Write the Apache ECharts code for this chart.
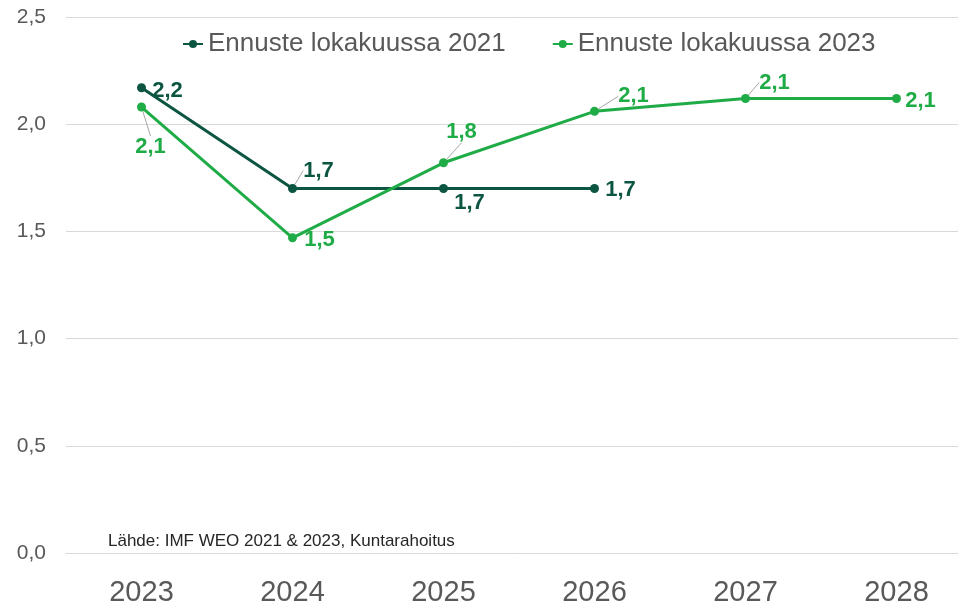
<!DOCTYPE html>
<html>
<head>
<meta charset="utf-8">
<script src="https://cdn.jsdelivr.net/npm/echarts@6/dist/echarts.min.js"></script>
<style>
  html, body { margin: 0; padding: 0; background: #fff; }
  #chart { width: 958px; height: 604px; }
</style>
</head>
<body>
<div id="chart"></div>
<script>
// Data
const years = ["2023", "2024", "2025", "2026", "2027", "2028"];
const seriesNames = ["Ennuste lokakuussa 2021", "Ennuste lokakuussa 2023"];
const forecast2021 = [2.17, 1.70, 1.70, 1.70, null, null];
const forecast2023 = [2.08, 1.47, 1.82, 2.06, 2.12, 2.12];
const sourceText = "Lähde: IMF WEO 2021 & 2023, Kuntarahoitus";

// label placement (offset from point centre) and guide lines
const offs2021 = [[26, 3], [26, -18], [26, 14], [26, 1]];
const guide2021 = [false, true, false, false];
const offs2023 = [[9, 40], [27, 2], [18, -31], [39, -15], [29, -16], [24, 2]];
const guide2023 = [true, false, true, true, true, false];

const darkGreen = "#0c5541";
const lightGreen = "#1fac47";
const font = "'Liberation Sans', Arial, sans-serif";

const fmt = v => v.toFixed(1).replace(".", ",");

const makeData = (vals, guides) =>
	vals.map((v, i) => ({
		value: v,
		labelLine: { show: !!guides[i] }
	}));

const makeLayout = offs => params => {
	const o = offs[params.dataIndex] || [0, 0];
	return {
		x: params.rect.x + params.rect.width / 2 + o[0],
		y: params.rect.y + params.rect.height / 2 + o[1],
		align: "center",
		verticalAlign: "middle"
	};
};

const myChart = echarts.init(document.getElementById("chart"));

const lineSeries = (name, vals, color, offs, guides) => ({
	name: name,
	type: "line",
	data: makeData(vals, guides),
	symbol: "circle",
	symbolSize: 9,
	connectNulls: false,
	lineStyle: { color: color, width: 3 },
	itemStyle: { color: color },
	label: {
		show: true,
		formatter: p => fmt(p.value),
		color: color,
		fontFamily: font,
		fontWeight: "bold",
		fontSize: 22
	},
	labelLine: {
		lineStyle: { color: "#a6a6a6", width: 1 }
	},
	labelLayout: makeLayout(offs),
	emphasis: { disabled: true }
});

const option = {
	animation: false,
	backgroundColor: "#fff",
	textStyle: { fontFamily: font },
	grid: {
		left: 66,
		width: 906,
		top: 17,
		bottom: 51,
		containLabel: false,
		outerBoundsMode: "none"
	},
	legend: {
		left: 177,
		top: 26,
		itemGap: 46,
		itemWidth: 20,
		itemHeight: 10,
		textStyle: { fontSize: 26, color: "#595959", fontFamily: font },
		data: seriesNames
	},
	xAxis: {
		type: "category",
		data: years,
		axisTick: { show: false },
		axisLine: { lineStyle: { color: "#d9d9d9", width: 1 } },
		axisLabel: {
			fontSize: 29,
			color: "#595959",
			margin: 25,
			fontFamily: font
		}
	},
	yAxis: {
		type: "value",
		min: 0,
		max: 2.5,
		interval: 0.5,
		axisLine: { show: false },
		axisTick: { show: false },
		splitLine: { lineStyle: { color: "#d9d9d9", width: 1 } },
		axisLabel: {
			fontSize: 21,
			color: "#595959",
			margin: 20,
			fontFamily: font,
			formatter: v => fmt(v)
		}
	},
	graphic: [
		{
			type: "text",
			left: 108,
			top: 533,
			style: {
				text: sourceText,
				fontSize: 17,
				fill: "#262626",
				fontFamily: font
			}
		}
	],
	series: [
		lineSeries(seriesNames[0], forecast2021, darkGreen, offs2021, guide2021),
		lineSeries(seriesNames[1], forecast2023, lightGreen, offs2023, guide2023)
	]
};

myChart.setOption(option);
</script>
</body>
</html>
